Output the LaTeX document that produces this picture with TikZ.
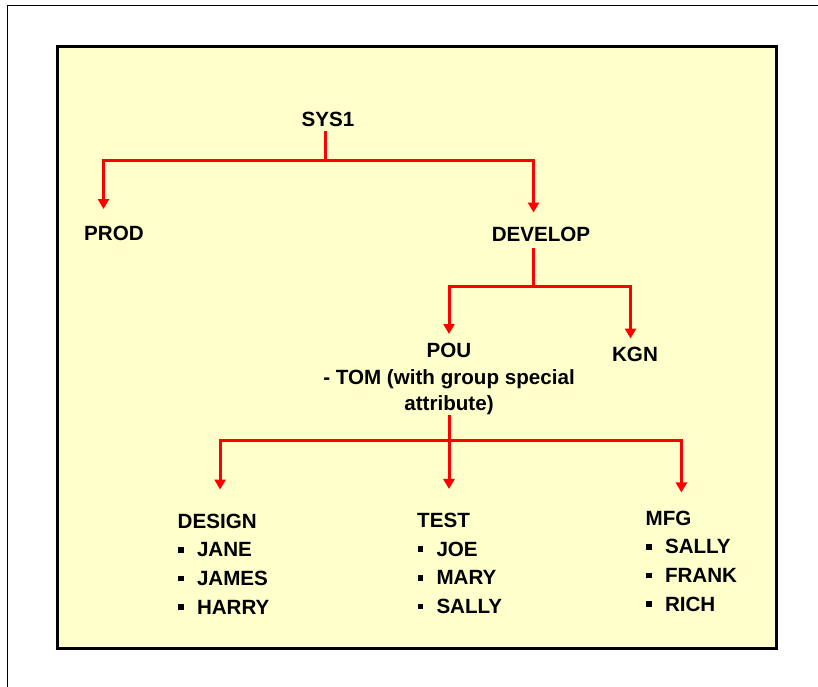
\documentclass[tikz,border=0pt]{standalone}
\usepackage{fontspec}
\setmainfont{Liberation Sans}
\usetikzlibrary{arrows.meta}
\definecolor{panelyellow}{HTML}{FFFFCC}
\definecolor{linkred}{HTML}{FF0000}
\newcommand{\member}{\hspace*{0.5pt}\rule[4.2pt]{5.6pt}{5.6pt}\hspace{13.2pt}}

\begin{document}
\begin{tikzpicture}[x=1pt, y=-1pt,
  lbl/.style={inner sep=0pt, font=\bfseries\fontsize{20.6}{26.7}\selectfont},
  grp/.style={anchor=west, inner sep=0pt, align=left, font=\bfseries\fontsize{20.6}{28.7}\selectfont},
  branch/.style={draw=linkred, line width=3pt},
  tip/.style={branch, -{Triangle[width=11pt, length=10pt]}}]
\useasboundingbox (0,0) rectangle (818,687);
% page frame and panel
\draw[line width=1pt] (7,687) -- (7,5.5) -- (818,5.5);
\draw[line width=3pt, fill=panelyellow] (57.5,46.5) rectangle (776.5,648);

\node[lbl] (sys1) at (328,119) {SYS1};
\node[lbl] (prod) at (114,233.5) {PROD};
\node[lbl] (develop) at (541,234) {DEVELOP};
\node[lbl, align=center, anchor=north] (pou) at (449,343) {POU\\- TOM (with group special\\attribute)};
\node[lbl] (kgn) at (635,354) {KGN};
\node[grp] (design) at (177.5,564) {DESIGN\\\member JANE\\\member JAMES\\\member HARRY};
\node[grp] (test) at (417,563.5) {TEST\\\member JOE\\\member MARY\\\member SALLY};
\node[grp] (mfg) at (645.5,561) {MFG\\\member SALLY\\\member FRANK\\\member RICH};

% SYS1 level
\draw[branch, shorten <=5pt] ([xshift=-2.5pt]sys1.south) -- ++(0,34.5) coordinate (j1);
\draw[tip, shorten >=17pt] (j1) -| ([xshift=-10.5pt]prod.north);
\draw[tip, shorten >=14pt] (j1) -| ([xshift=-7.5pt]develop.north);
% DEVELOP level
\draw[branch, shorten <=6.5pt] ([xshift=-7.5pt]develop.south) -- ++(0,45.5) coordinate (j2);
\draw[tip, shorten >=9pt] (j2) -| (pou.north);
\draw[tip, shorten >=8pt] (j2) -| ([xshift=-4.5pt]kgn.north);
% POU level
\draw[branch] (pou.south) -- ++(0,25) coordinate (j3);
\draw[tip, shorten >=24pt] (pou.south) -- (pou.south |- test.north);
\draw[tip, shorten >=24pt] (j3) -| ([xshift=-3.5pt]design.north);
\draw[tip, shorten >=18pt] (j3) -| ([xshift=-10pt]mfg.north);
\end{tikzpicture}
\end{document}
